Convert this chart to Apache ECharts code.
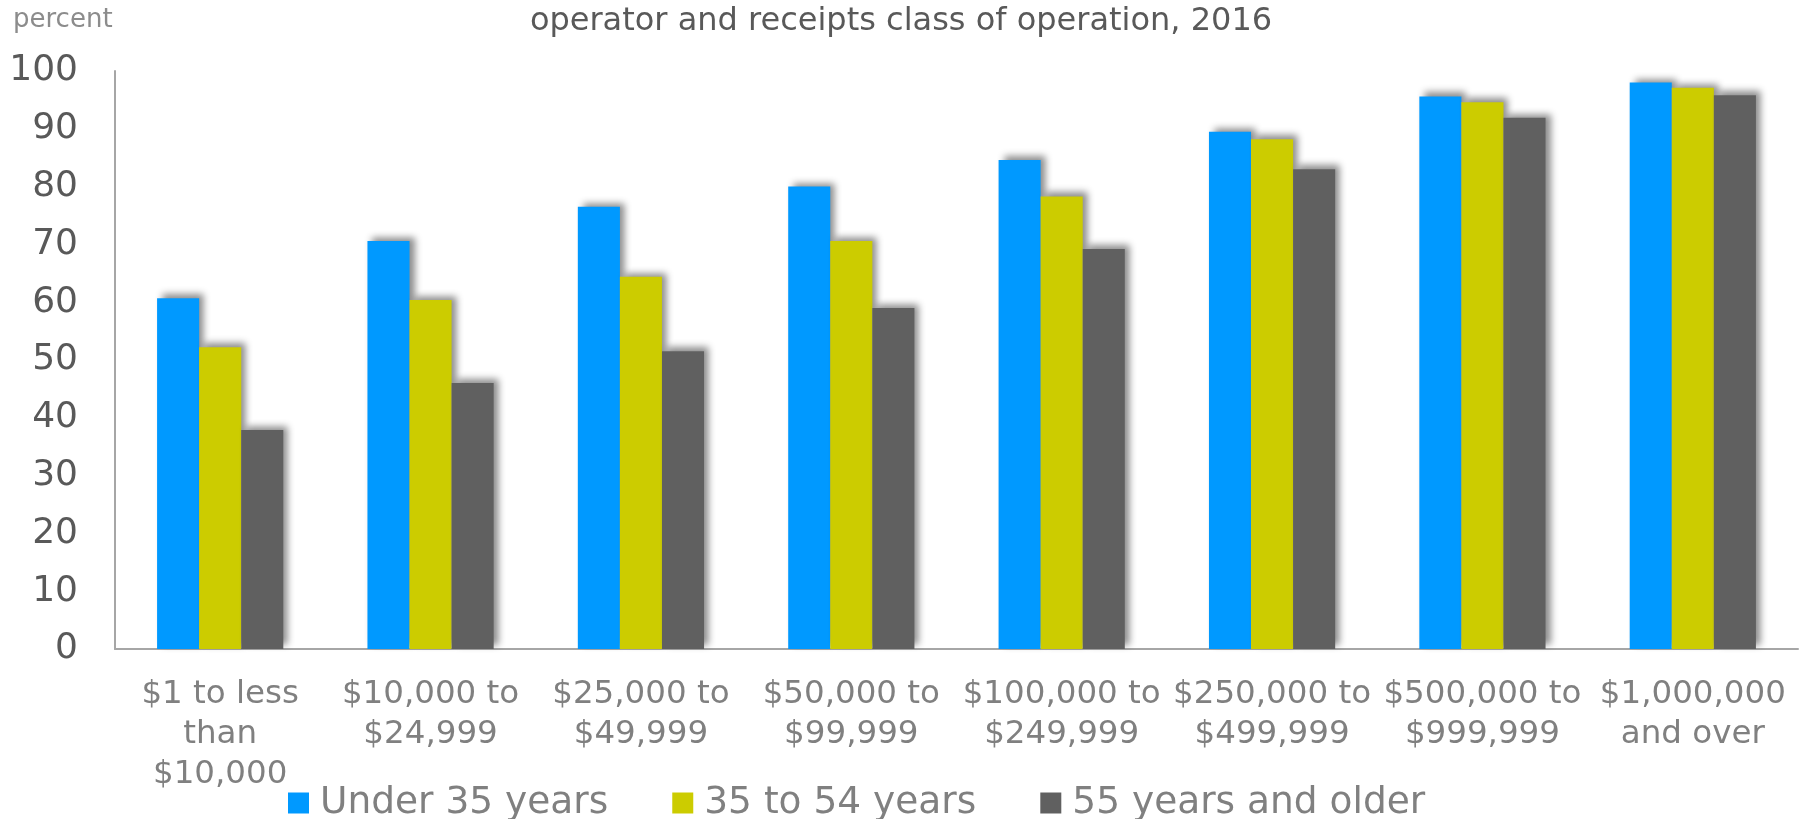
<!DOCTYPE html>
<html>
<head>
<meta charset="utf-8">
<script src="https://cdn.jsdelivr.net/npm/echarts@6/dist/echarts.min.js"></script>
<style>
html, body { margin: 0; padding: 0; background: #fff; }
#chart { width: 1802px; height: 819px; }
</style>
</head>
<body>
<div id="chart"></div>
<script>
var categories = ['$1 to less\nthan\n$10,000', '$10,000 to\n$24,999', '$25,000 to\n$49,999', '$50,000 to\n$99,999',
	'$100,000 to\n$249,999', '$250,000 to\n$499,999', '$500,000 to\n$999,999', '$1,000,000\nand over'];
var seriesNames = ['Under 35 years', '35 to 54 years', '55 years and older'];
var under35 = [60.7, 70.6, 76.5, 80.0, 84.6, 89.5, 95.6, 98.0];
var age35to54 = [52.2, 60.4, 64.4, 70.6, 78.3, 88.2, 94.6, 97.1];
var age55up = [37.9, 46.0, 51.5, 59.0, 69.2, 83.0, 91.9, 95.8];
var colors = ['#0099FF', '#CCCC00', '#606060'];

var font = 'DejaVu Sans, Verdana, sans-serif';

function makeSeries(name, data, color) {
	return {
		name: name,
		type: 'bar',
		data: data,
		barGap: 0,
		barCategoryGap: '40%',
		itemStyle: {
			color: color,
			shadowBlur: 7,
			shadowColor: 'rgba(0,0,0,0.45)',
			shadowOffsetX: 5,
			shadowOffsetY: -4
		}
	};
}

var chart = echarts.init(document.getElementById('chart'));
chart.setOption({
	animation: false,
	color: colors,
	title: [{
		text: 'operator and receipts class of operation, 2016',
		left: 'center',
		top: 1,
		textStyle: { fontFamily: font, fontSize: 32, fontWeight: 'normal', color: '#595959' }
	}, {
		text: 'percent',
		left: 8,
		top: 2,
		textStyle: { fontFamily: font, fontSize: 26, fontWeight: 'normal', color: '#8c8c8c' }
	}],
	legend: {
		left: 283,
		bottom: -8,
		itemWidth: 21,
		itemHeight: 21,
		itemGap: 64,
		icon: 'rect',
		textStyle: { fontFamily: font, fontSize: 37.5, color: '#808080', padding: [0, 0, 0, 6] },
		data: seriesNames
	},
	grid: {
		left: 115,
		right: 4,
		top: 71,
		bottom: 170,
		containLabel: false
	},
	xAxis: {
		type: 'category',
		data: categories,
		axisLine: { lineStyle: { color: '#a6a6a6', width: 2 } },
		axisTick: { show: false },
		axisLabel: {
			interval: 0,
			margin: 26,
			fontFamily: font,
			fontSize: 32.5,
			lineHeight: 40,
			color: '#808080'
		}
	},
	yAxis: {
		type: 'value',
		min: 0,
		max: 100,
		interval: 10,
		axisLine: { show: true, lineStyle: { color: '#a6a6a6', width: 2 } },
		axisTick: { show: false },
		splitLine: { show: false },
		axisLabel: {
			margin: 37,
			fontFamily: font,
			fontSize: 36,
			color: '#595959'
		}
	},
	series: [
		makeSeries(seriesNames[0], under35, colors[0]),
		makeSeries(seriesNames[1], age35to54, colors[1]),
		makeSeries(seriesNames[2], age55up, colors[2])
	]
});
</script>
</body>
</html>
